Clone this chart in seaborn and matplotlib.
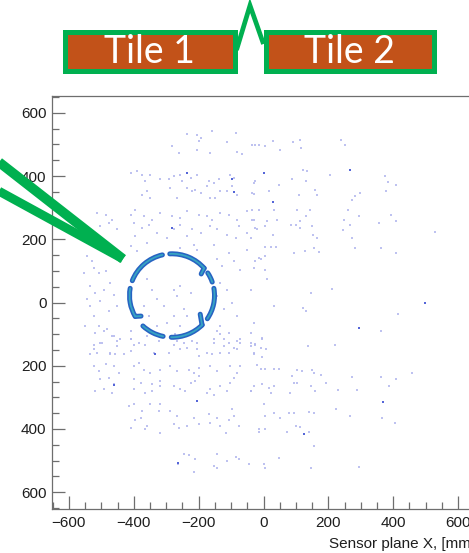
import matplotlib
matplotlib.use("Agg")
import numpy as np
import pandas as pd
import seaborn as sns
import matplotlib.pyplot as plt
from matplotlib.patches import Arc, Rectangle
from matplotlib.lines import Line2D
from matplotlib.ticker import MultipleLocator, FuncFormatter

# ---- single-hit positions on the sensor plane, mm (x, y), grouped by tile row ----
row_a = [(-236, 534), (-205, 531), (-158, 541), (-86, 536), (-112, 506), (-35, 499),
         (-15, 499), (-282, 496), (-200, 510), (-205, 483), (-164, 473), (-81, 475),
         (-66, 471), (-261, 473), (-194, 520), (-25, 499), (6, 496), (30, 510),
         (52, 481), (92, 506), (114, 515), (117, 489), (240, 515), (250, 497)]

row_b = [(-410, 410), (-390, 415), (-374, 404), (-364, 383), (-349, 404), (-318, 389),
         (-292, 389), (-277, 399), (-256, 404), (-236, 410), (-225, 394), (-205, 404),
         (-169, 383), (-153, 378), (-138, 389), (-102, 404), (-92, 394), (-25, 383),
         (-374, 341), (-359, 352), (-349, 331), (-287, 362), (-266, 331), (-220, 352),
         (-210, 357), (-194, 346), (-164, 331), (-148, 331), (-133, 352), (-112, 352),
         (-81, 341), (-35, 346), (-251, 383), (-236, 362), (-97, 367), (-174, 367),
         (88, 389), (122, 418), (135, 415), (132, 383), (205, 404), (376, 401),
         (384, 380), (407, 373), (378, 352), (-30, 378), (16, 352), (47, 370),
         (109, 341), (160, 357), (166, 341), (281, 338), (274, 325), (-30, 344),
         (299, 346)]

row_c = [(-513, 283), (-487, 278), (-467, 262), (-503, 241), (-477, 252), (-451, 231),
         (-410, 278), (-395, 294), (-369, 273), (-343, 262), (-318, 283), (-400, 252),
         (-374, 236), (-354, 246), (-282, 273), (-256, 267), (-236, 289), (-200, 278),
         (-174, 273), (-158, 262), (-133, 283), (-107, 278), (-81, 262), (-50, 289),
         (-30, 262), (-277, 231), (-256, 246), (-220, 231), (-194, 220), (-164, 241),
         (-143, 231), (-112, 215), (-76, 241), (-50, 220), (-20, 231), (-395, 210),
         (-328, 220), (-297, 204), (-236, 210), (-86, 204), (-35, 294), (-14, 294),
         (32, 292), (102, 292), (143, 294), (261, 294), (392, 278), (-35, 262),
         (11, 257), (42, 262), (85, 246), (99, 246), (112, 257), (130, 273),
         (150, 241), (248, 262), (268, 246), (294, 273), (356, 252), (407, 257),
         (530, 222), (-25, 236), (6, 241), (30, 215), (114, 236), (153, 215),
         (166, 204), (246, 229), (274, 204), (-40, 204)]

row_d = [(6, 175), (22, 175), (40, 175), (94, 157), (128, 164), (155, 173), (171, 160),
         (282, 173), (361, 173), (407, 155), (-14, 141), (6, 146), (-25, 131), (6, 104),
         (-30, 110), (145, 29), (210, 44), (122, -17), (130, -27), (414, -35),
         (363, -91), (-523, 109), (-508, 94), (-487, 99), (-534, 52), (-518, 31),
         (-503, 4), (-493, 41), (-472, 62), (-462, 25), (-451, -12), (-477, -27),
         (-523, -43), (-508, -75), (-482, -85), (-462, -106), (-441, -117),
         (-359, 73), (-343, 41), (-328, 10), (-369, -12), (-354, -43), (-307, -12),
         (-277, 41), (-266, 20), (-256, 52), (-246, -22), (-236, -43), (-225, 31),
         (-297, -64), (-277, -43), (-256, -75), (-328, -75), (-143, 136), (-128, 115),
         (-107, 157), (-92, 131), (-71, 104), (-133, 62), (-112, 41), (-143, 20),
         (-97, -1), (-122, -22), (-81, -43), (-133, -75), (-107, -96), (-71, -117),
         (-50, 167), (-40, 41), (-9, 136), (11, 73), (32, -12), (-30, -64),
         (-410, 178), (-390, 162), (-359, 188), (-256, 173), (-215, 183), (-153, 183),
         (-205, 167), (-544, 146), (-529, 131), (-554, 94), (-544, 10), (-534, -12),
         (-549, -75)]

row_e = [(-518, -96), (-493, -91), (-467, -106), (-451, -122), (-523, -133), (-498, -127),
         (-513, -159), (-472, -164), (-457, -164), (-410, -117), (-400, -133),
         (-385, -127), (-364, -133), (-410, -154), (-338, -159), (-323, -122),
         (-292, -159), (-277, -133), (-266, -122), (-256, -148), (-246, -127),
         (-236, -143), (-220, -122), (-205, -148), (-200, -170), (-174, -159),
         (-153, -127), (-133, -101), (-122, -117), (-107, -127), (-92, -143),
         (-81, -122), (-107, -159), (-158, -164), (-133, -159), (-71, -127),
         (-40, -127), (-25, -133), (-30, -159), (-534, -164), (-410, -91),
         (-359, -106), (-272, -101), (-143, -91), (-205, -127), (-503, -127),
         (-523, -148), (-472, -159), (-451, -138), (-431, -164), (-410, -117),
         (-153, -117), (-122, -138), (-81, -148), (-40, -138), (-4, -117),
         (-40, -96), (-4, -111), (-25, -132), (-9, -143), (9, -148), (-30, -164),
         (-4, -171), (138, -138), (219, -133)]

row_f = [(-523, -201), (-508, -217), (-487, -196), (-462, -201), (-446, -222),
         (-503, -243), (-477, -238), (-462, -259), (-518, -280), (-493, -275),
         (-467, -285), (-400, -201), (-385, -191), (-369, -212), (-349, -222),
         (-318, -212), (-400, -243), (-379, -254), (-343, -259), (-318, -248),
         (-400, -275), (-364, -285), (-343, -280), (-318, -264), (-287, -201),
         (-266, -217), (-277, -264), (-256, -275), (-230, -212), (-215, -222),
         (-200, -206), (-225, -254), (-210, -248), (-200, -233), (-241, -280),
         (-174, -285), (-164, -275), (-153, -291), (-133, -264), (-164, -201),
         (-143, -217), (-102, -201), (-81, -222), (-102, -254), (-92, -238),
         (-71, -201), (-40, -280), (-112, -280), (-20, -199), (-9, -211), (6, -209),
         (32, -211), (47, -209), (88, -232), (104, -214), (119, -217), (150, -214),
         (155, -224), (176, -230), (274, -236), (361, -236), (407, -243),
         (459, -222), (-30, -264), (-4, -259), (16, -269), (32, -264), (94, -254),
         (104, -254), (145, -264), (194, -254), (229, -277), (289, -277),
         (387, -264), (-40, -280), (22, -285), (83, -287), (160, -280)]

row_g = [(-415, -327), (-400, -322), (-374, -343), (-379, -364), (-395, -370),
         (-410, -396), (-349, -322), (-318, -322), (-323, -343), (-359, -391),
         (-318, -412), (-287, -343), (-266, -359), (-277, -385), (-261, -396),
         (-236, -391), (-215, -364), (-200, -385), (-169, -354), (-164, -380),
         (-143, -364), (-133, -391), (-117, -412), (-97, -338), (-92, -359),
         (-76, -391), (-107, -370), (-364, -401), (1, -322), (222, -338), (6, -359),
         (32, -350), (52, -364), (78, -348), (94, -350), (140, -346), (155, -350),
         (268, -359), (364, -366), (404, -382), (99, -390), (114, -393), (-14, -399),
         (-14, -411), (6, -401), (73, -411), (140, -411)]

row_h = [(-246, -480), (-230, -483), (-210, -496), (-264, -510), (-215, -536),
         (-143, -480), (-112, -501), (-86, -487), (-76, -496), (-153, -517),
         (-143, -522), (-45, -512), (155, -454), (47, -492), (1, -511), (6, -524),
         (145, -524), (294, -520)]

# hits with a larger deposited count (drawn darker)
dense_hits = [(-205, -312), (1, 410), (268, 420), (29, 317), (294, -80), (498, -3),
              (367, -315), (124, -417), (-335, -162), (-263, -508), (-282, 236),
              (-97, 389), (-236, 410), (-460, -260), (-92, 350)]

# ---- Cherenkov ring: centre, radii (mm) and arc segments (deg) ----
ring_center = (-282, 22)
ring_radii = (131, 132)
arc_start = [103, 41, 19, -34, -91, -133, 170]
arc_end = [159, 93, 33, 10, -45, -102, 210]
# inward hooks at segment ends: (angle of arc end, tip angle, tip radius fraction)
hooks = [(41, 37, 0.86), (-45, -34, 0.80), (210, 214, 0.88)]

x_ticks = [-600, -400, -200, 0, 200, 400, 600]
y_ticks = [-600, -400, -200, 0, 200, 400, 600]
x_title = "Sensor plane X, [mm]"
tile_names = ["Tile 1", "Tile 2"]

# ---- figure ----
sns.set_theme(style="white")
plt.rcParams["font.family"] = ["Liberation Sans", "DejaVu Sans"]

W, H = 469, 553
fig = plt.figure(figsize=(W / 100, H / 100), dpi=100)
ax = fig.add_axes([52 / W, (H - 509) / H, 423 / W, 413 / H])

rows = [row_a, row_b, row_c, row_d, row_e, row_f, row_g, row_h]
pts = [p for r in rows for p in r]
df = pd.DataFrame(pts, columns=["x", "y"])
df["level"] = "single"
df_dense = pd.DataFrame(dense_hits, columns=["x", "y"])
df_dense["level"] = "dense"

sns.scatterplot(data=df, x="x", y="y", color="#b3b8ee",
                marker="s", s=2.4, linewidth=0, alpha=0.85, legend=False, ax=ax)
sns.scatterplot(data=df_dense, x="x", y="y", color="#5566d8",
                marker="s", s=2.8, linewidth=0, legend=False, ax=ax)

cx, cy = ring_center
rx, ry = ring_radii
for a0, a1 in zip(arc_start, arc_end):
    ax.add_patch(Arc((cx, cy), 2 * rx, 2 * ry, theta1=a0, theta2=a1,
                     color="#2763c2", lw=3.6, capstyle="round", zorder=4))
    ax.add_patch(Arc((cx, cy), 2 * rx, 2 * ry, theta1=a0, theta2=a1,
                     color="#36a4c2", lw=1.3, capstyle="round", zorder=5))
for a_end, a_tip, r_tip in hooks:
    e = np.radians(a_end)
    t = np.radians(a_tip)
    xs = [cx + rx * np.cos(e), cx + rx * r_tip * np.cos(t)]
    ys = [cy + ry * np.sin(e), cy + ry * r_tip * np.sin(t)]
    ax.plot(xs, ys, color="#2763c2", lw=3.6, solid_capstyle="round", zorder=4)
    ax.plot(xs, ys, color="#36a4c2", lw=1.3, solid_capstyle="round", zorder=5)

ax.set_xlim(-652, 652)
ax.set_ylim(-653, 653)
ax.xaxis.set_major_locator(plt.FixedLocator(x_ticks))
ax.yaxis.set_major_locator(plt.FixedLocator(y_ticks))
ax.xaxis.set_minor_locator(MultipleLocator(50))
ax.yaxis.set_minor_locator(MultipleLocator(50))
ax.xaxis.set_major_formatter(FuncFormatter(lambda v, p: f"{int(v)}".replace("-", "\u2212")))
ax.yaxis.set_major_formatter(FuncFormatter(lambda v, p: f"{abs(int(v))}"))
ax.tick_params(which="both", direction="in", color="#6e6e6e", width=0.9,
               labelsize=11, labelcolor="#1e1e1e", bottom=True, left=True,
               top=False, right=False)
ax.tick_params(which="major", length=9.3, pad=4)
ax.tick_params(which="minor", length=4.8)
ax.tick_params(axis="x", which="major", pad=5)
for sp in ax.spines.values():
    sp.set_color("#6e6e6e")
    sp.set_linewidth(0.9)
ax.set_xlabel(x_title, fontsize=11, color="#1e1e1e", ha="right", x=1.0, labelpad=5)
ax.set_ylabel("")

# ---- overlay in pixel coordinates: tile labels and pointers ----
ov = fig.add_axes([0, 0, 1, 1], zorder=10)
ov.set_xlim(0, W)
ov.set_ylim(H, 0)
ov.axis("off")
ov.patch.set_alpha(0)

green = "#00b050"
orange = "#c25219"
box_x = [(64.5, 234.5), (265.5, 433.5)]
for (x0, x1), name in zip(box_x, tile_names):
    ov.add_patch(Rectangle((x0, 31.5), x1 - x0, 39, facecolor=orange,
                           edgecolor=green, lw=3.6))
    ov.text((x0 + x1) / 2, 52, name, color="white", fontsize=27,
            family=["Lato", "DejaVu Sans"], ha="center", va="center")

ov.add_line(Line2D([236.5, 250, 263.5], [50, 5.5, 44], color=green, lw=3.4,
                   solid_joinstyle="miter", solid_capstyle="butt"))
ov.add_line(Line2D([-5, 123], [159, 259], color=green, lw=7.0,
                   solid_capstyle="butt"))
ov.add_line(Line2D([-5, 123], [189, 259], color=green, lw=6.4,
                   solid_capstyle="butt"))

fig.savefig("out.png", dpi=100)
